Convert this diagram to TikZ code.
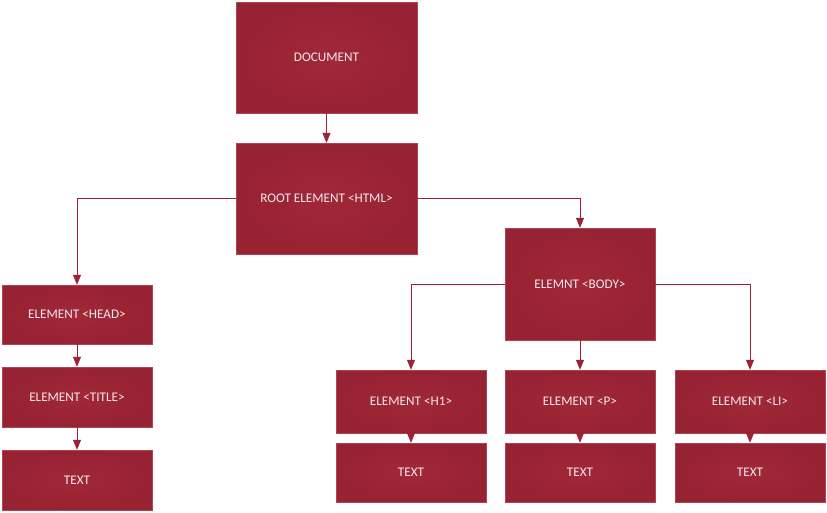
\documentclass[tikz,border=0pt]{standalone}
\usepackage{fontspec}
\setmainfont{Carlito}
\usetikzlibrary{arrows.meta}
\definecolor{boxin}{HTML}{A02839}
\definecolor{boxout}{HTML}{972231}
\definecolor{boxedge}{HTML}{AE4453}
\definecolor{linered}{HTML}{9B2335}
\definecolor{txt}{HTML}{F5E9EB}
\tikzset{
  box/.style={rectangle, draw=boxedge, line width=0.4pt, shading=radial, inner color=boxin, outer color=boxout,
    text=txt, font=\fontsize{13.2}{15}\selectfont, align=center, inner sep=0pt},
  bigbox/.style={box, minimum width=181pt, minimum height=111pt},
  smallbox/.style={box, minimum width=150pt, minimum height=60pt},
  conn/.style={draw=linered, line width=0.8pt, -{Triangle[width=8pt,length=10pt]}},
}
\begin{document}
\begin{tikzpicture}[x=1pt,y=-1pt]
\useasboundingbox (0,0) rectangle (827,512);
\node[bigbox] (doc) at (326.5,57.5) {DOCUMENT};
\node[bigbox] (root) at (326.5,198.5) {ROOT ELEMENT <HTML>};
\node[smallbox, minimum height=59pt] (head) at (77,314.5) {ELEMENT <HEAD>};
\node[smallbox] (title) at (77,397) {ELEMENT <TITLE>};
\node[smallbox] (textl) at (77,480) {TEXT};
\node[box, minimum width=150pt, minimum height=112pt] (body) at (580,284) {ELEMNT <BODY>};
\node[smallbox, minimum height=63pt] (h1) at (411,401.5) {ELEMENT <H1>};
\node[smallbox, minimum height=59pt] (t1) at (411,472.5) {TEXT};
\node[smallbox, minimum height=63pt] (p) at (580,401.5) {ELEMENT <P>};
\node[smallbox, minimum height=59pt] (t2) at (580,472.5) {TEXT};
\node[smallbox, minimum height=63pt] (li) at (750,401.5) {ELEMENT <LI>};
\node[smallbox, minimum height=59pt] (t3) at (750,472.5) {TEXT};
\draw[conn] (doc) -- (root);
\draw[conn] (root.west) -| (head.north);
\draw[conn] (root.east) -| (body.north);
\draw[conn] (head) -- (title);
\draw[conn] (title) -- (textl);
\draw[conn] (body.west) -| (h1.north);
\draw[conn] (body) -- (p);
\draw[conn] (body.east) -| (li.north);
\draw[conn] (h1) -- (t1);
\draw[conn] (p) -- (t2);
\draw[conn] (li) -- (t3);
\end{tikzpicture}
\end{document}
